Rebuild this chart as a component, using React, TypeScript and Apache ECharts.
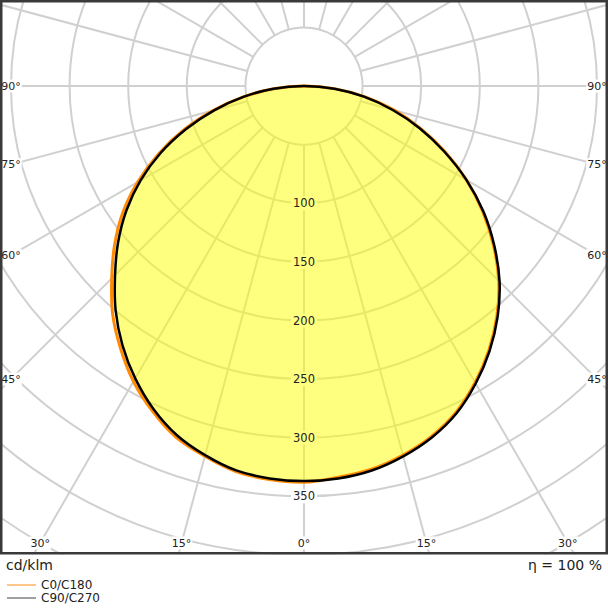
import React, { useEffect, useRef } from 'react';
import * as echarts from 'echarts';

// Photometric gamma angles (degrees from the downward vertical)
const gammaAngles = [0, 5, 10, 15, 20, 25, 30, 35, 40, 45, 50, 55, 60, 65, 70, 75, 80, 85, 90];
// Luminous intensity in cd/klm
const c180Values = [338, 337, 334, 327, 319, 306, 291, 273, 254, 232, 211, 189, 164, 137, 109, 80, 52, 26, 0]; // left half
const c0Values = [338, 335, 332, 326, 318, 307, 292, 275, 256, 235, 211, 186, 160, 133, 106, 80, 53, 27, 0]; // right half
const c270Values = [337, 336, 333, 326, 317, 304, 288, 270, 250, 228, 207, 185, 161, 135, 107, 79, 52, 26, 0]; // left half
const c90Values = [337, 336, 333, 327, 319, 308, 293, 276, 257, 236, 212, 187, 160, 132, 105, 78, 52, 26, 0]; // right half

const radialTickLabels = [100, 150, 200, 250, 300, 350];
const angleTickLabels = [0, 15, 30, 45, 60, 75, 90];
const seriesNames = ['C0/C180', 'C90/C270'];
const unitLabel = 'cd/klm';
const efficiencyLabel = 'η = 100 %';

const FONT = '"DejaVu Sans", "Noto Sans", sans-serif';
const FILL_COLOR = 'rgba(255,255,0,0.5)';
const FILL_ON_WHITE = '#ffff80';
const SMOOTH = 0.33;

// closed loop: left half from 90° down to 0°, then right half from 5° up to 85°
function toPolar(left: number[], right: number[]): number[][] {
  const pts: number[][] = [];
  for (let i = gammaAngles.length - 1; i >= 0; i--) pts.push([left[i], gammaAngles[i]]);
  for (let i = 1; i < gammaAngles.length - 1; i++) pts.push([right[i], 360 - gammaAngles[i]]);
  return pts;
}

const c0c180Data = toPolar(c180Values, c0Values);
const c90c270Data = toPolar(c270Values, c90Values);

const angleLabelItems: number[][] = [];
angleTickLabels.forEach((g) => {
  angleLabelItems.push([100, g]);
  if (g !== 0) angleLabelItems.push([100, 360 - g]);
});

function curveSeries(name: string, data: number[][], z: number, style: any) {
  return {
    type: 'custom', name, coordinateSystem: 'polar', polarIndex: 1, z, silent: true, clip: false,
    data,
    itemStyle: { color: style.stroke || style.fill },
    renderItem: (params: any, api: any) => {
      if (params.dataIndex !== 0) return null;
      const pts = data.map((d) => api.coord(d).slice(0, 2));
      return { type: 'polygon', shape: { points: pts, smooth: SMOOTH }, style };
    },
  };
}

export default function App() {
  const ref = useRef<HTMLDivElement>(null);
  useEffect(() => {
    document.body.style.margin = '0';
    const chart = echarts.init(ref.current as HTMLDivElement, undefined, { renderer: 'svg' });
    const gridLine = { show: true, lineStyle: { color: '#d0d0d0', width: 2 } };
    const hidden = { axisLine: { show: false }, axisTick: { show: false }, axisLabel: { show: false }, splitLine: { show: false } };
    const option: any = {
      animation: false,
      textStyle: { fontFamily: FONT },
      polar: [
        { center: [304, 86.1], radius: [58.6, 586] }, // grid (spokes start at the 50 ring)
        { center: [304, 86.1], radius: [0, 586] }, // data
      ],
      radiusAxis: [
        {
          polarIndex: 0, type: 'value', min: 50, max: 500, interval: 50,
          axisLine: { show: false }, axisTick: { show: false }, axisLabel: { show: false },
          splitLine: gridLine,
        },
        { polarIndex: 1, type: 'value', min: 0, max: 500, interval: 50, ...hidden },
      ],
      angleAxis: [
        {
          polarIndex: 0, type: 'value', min: 0, max: 360, interval: 15, startAngle: 270, clockwise: true,
          axisLine: { show: false }, axisTick: { show: false }, axisLabel: { show: false },
          splitLine: gridLine,
        },
        { polarIndex: 1, type: 'value', min: 0, max: 360, interval: 15, startAngle: 270, clockwise: true, ...hidden },
      ],
      legend: {
        orient: 'vertical', left: 7, top: 579, padding: 0, itemGap: 1,
        itemWidth: 29, itemHeight: 1.5, z: 60, selectedMode: false,
        textStyle: { fontSize: 12, color: '#222', fontFamily: FONT },
        data: [
          { name: seriesNames[0], icon: 'rect', itemStyle: { color: '#ffb366', borderWidth: 0 } },
          { name: seriesNames[1], icon: 'rect', itemStyle: { color: '#808080', borderWidth: 0 } },
        ],
      },
      series: [
        curveSeries('fill', c90c270Data, 2, { fill: FILL_COLOR }),
        curveSeries(seriesNames[0], c0c180Data, 3, { fill: 'none', stroke: '#ff8c00', lineWidth: 3, lineJoin: 'round' }),
        curveSeries(seriesNames[1], c90c270Data, 4, { fill: 'none', stroke: '#000000', lineWidth: 2.5, lineJoin: 'round' }),
        {
          type: 'custom', name: 'radialLabels', coordinateSystem: 'polar', polarIndex: 1, z: 6, silent: true,
          data: radialTickLabels.map((v) => [v, 0]),
          renderItem: (_p: any, api: any) => {
            const v = api.value(0);
            const p = api.coord([v, 0]);
            return {
              type: 'text', x: p[0], y: p[1],
              style: {
                text: String(v), fill: '#222', font: '11.5px ' + FONT,
                align: 'center', verticalAlign: 'middle',
                textAlign: 'center', textVerticalAlign: 'middle',
                backgroundColor: v < c90Values[0] ? FILL_ON_WHITE : '#ffffff',
                padding: [1, 2],
              },
            };
          },
        },
        {
          type: 'custom', name: 'angleLabels', coordinateSystem: 'polar', polarIndex: 1, z: 6, silent: true,
          data: angleLabelItems,
          renderItem: (_p: any, api: any) => {
            const a = api.value(1);
            const c = api.coord([0, a]);
            const q = api.coord([100, a]);
            const dx = q[0] - c[0];
            const dy = q[1] - c[1];
            const cands: number[] = [];
            if (dx < -1e-6) cands.push((11 - c[0]) / dx);
            if (dx > 1e-6) cands.push((597 - c[0]) / dx);
            if (dy > 1e-6) cands.push((543 - c[1]) / dy);
            const t = Math.min(...cands);
            const g = a <= 180 ? a : 360 - a;
            return {
              type: 'text', x: c[0] + t * dx, y: c[1] + t * dy,
              style: {
                text: g + '°', fill: '#222', font: '11px ' + FONT,
                align: 'center', verticalAlign: 'middle',
                textAlign: 'center', textVerticalAlign: 'middle',
                backgroundColor: '#ffffff', padding: [1, 1],
              },
            };
          },
        },
      ],
      graphic: {
        elements: [
          { type: 'rect', z: 50, silent: true, shape: { x: 0, y: 554.5, width: 608, height: 60 }, style: { fill: '#ffffff' } },
          { type: 'rect', z: 51, silent: true, shape: { x: 1.25, y: 1.25, width: 605.5, height: 552 }, style: { fill: 'none', stroke: '#3a3a3a', lineWidth: 2.5 } },
          {
            type: 'text', z: 52, x: 6, y: 564.5,
            style: { text: unitLabel, font: '14px ' + FONT, fill: '#222', align: 'left', verticalAlign: 'middle', textAlign: 'left', textVerticalAlign: 'middle' },
          },
          {
            type: 'text', z: 52, x: 602, y: 564.5,
            style: { text: efficiencyLabel, font: '14px ' + FONT, fill: '#222', align: 'right', verticalAlign: 'middle', textAlign: 'right', textVerticalAlign: 'middle' },
          },
        ],
      },
    };
    chart.setOption(option);
    return () => chart.dispose();
  }, []);
  return <div ref={ref} style={{ position: 'fixed', left: 0, top: 0, width: 608, height: 608, background: '#ffffff' }} />;
}
